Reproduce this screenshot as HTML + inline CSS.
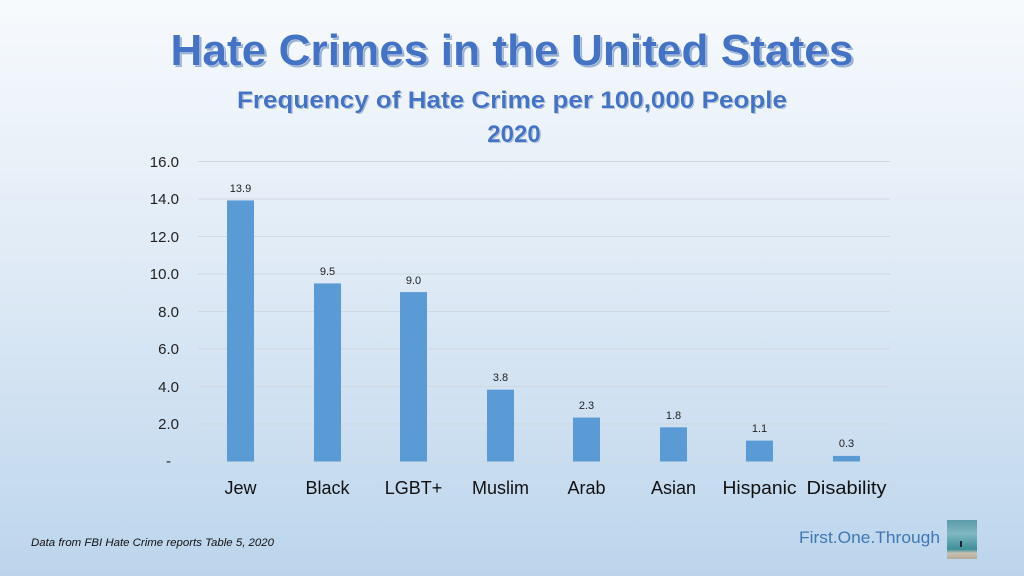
<!DOCTYPE html>
<html><head><meta charset="utf-8"><style>
html,body{margin:0;padding:0;width:1024px;height:576px;overflow:hidden}
</style></head><body>
<svg width="1024" height="576" xmlns="http://www.w3.org/2000/svg" font-family="Liberation Sans, sans-serif">
<defs>
<linearGradient id="bg" x1="0" y1="0" x2="0" y2="1">
<stop offset="0" stop-color="#f7fafd"/><stop offset="0.5" stop-color="#dde9f5"/><stop offset="1" stop-color="#bcd5ec"/>
</linearGradient>
<linearGradient id="ph" x1="0" y1="0" x2="0" y2="1">
<stop offset="0" stop-color="#5a9aa8"/><stop offset="0.35" stop-color="#7fb7c0"/><stop offset="0.75" stop-color="#3f8f9a"/><stop offset="0.85" stop-color="#c8c0b0"/><stop offset="1" stop-color="#b5ab9c"/>
</linearGradient>
</defs>
<rect width="1024" height="576" fill="url(#bg)"/>
<g font-weight="bold" fill="#4472c4" stroke="#ffffff" stroke-width="0.6" style="paint-order:stroke">
<text x="514" y="67" font-size="44" text-anchor="middle" textLength="683" lengthAdjust="spacingAndGlyphs" fill="#9ab0d0" stroke="none">Hate Crimes in the United States</text>
<text x="512" y="65" font-size="44" text-anchor="middle" textLength="683" lengthAdjust="spacingAndGlyphs">Hate Crimes in the United States</text>
<text x="513" y="109" font-size="24" text-anchor="middle" textLength="550" lengthAdjust="spacingAndGlyphs" fill="#9ab0d0" stroke="none">Frequency of Hate Crime per 100,000 People</text>
<text x="512" y="108" font-size="24" text-anchor="middle" textLength="550" lengthAdjust="spacingAndGlyphs">Frequency of Hate Crime per 100,000 People</text>
<text x="515" y="143" font-size="24" text-anchor="middle" fill="#9ab0d0" stroke="none">2020</text>
<text x="514" y="142" font-size="24" text-anchor="middle">2020</text>
</g>
<g stroke="#d0d8e0" stroke-width="1">
<line x1="198" x2="890" y1="161.5" y2="161.5"/><line x1="198" x2="890" y1="199" y2="199"/>
<line x1="198" x2="890" y1="236.5" y2="236.5"/><line x1="198" x2="890" y1="274" y2="274"/>
<line x1="198" x2="890" y1="311.5" y2="311.5"/><line x1="198" x2="890" y1="349" y2="349"/>
<line x1="198" x2="890" y1="386.5" y2="386.5"/><line x1="198" x2="890" y1="424" y2="424"/>
<line x1="198" x2="890" y1="461.5" y2="461.5"/>
</g>
<g font-size="15" fill="#222" text-anchor="end">
<text x="179" y="167">16.0</text><text x="179" y="204">14.0</text><text x="179" y="242">12.0</text>
<text x="179" y="279">10.0</text><text x="179" y="317">8.0</text><text x="179" y="354">6.0</text>
<text x="179" y="392">4.0</text><text x="179" y="429">2.0</text><text x="171" y="466">-</text>
</g>
<g fill="#5b9bd5">
<rect x="227" y="200.4" width="27" height="261.1"/>
<rect x="314" y="283.4" width="27" height="178.1"/>
<rect x="400" y="292.1" width="27" height="169.4"/>
<rect x="487" y="389.7" width="27" height="71.8"/>
<rect x="573" y="417.6" width="27" height="43.9"/>
<rect x="660" y="427.3" width="27" height="34.2"/>
<rect x="746" y="440.6" width="27" height="20.9"/>
<rect x="833" y="455.9" width="27" height="5.6"/>
</g>
<g font-size="11" fill="#222" text-anchor="middle">
<text x="240.5" y="192">13.9</text><text x="327.5" y="275">9.5</text><text x="413.5" y="284">9.0</text>
<text x="500.5" y="381">3.8</text><text x="586.5" y="409">2.3</text><text x="673.5" y="419">1.8</text>
<text x="759.5" y="432">1.1</text><text x="846.5" y="447">0.3</text>
</g>
<g font-size="18" fill="#111" text-anchor="middle">
<text x="240.5" y="494">Jew</text><text x="327.5" y="494">Black</text><text x="413.5" y="494">LGBT+</text>
<text x="500.5" y="494">Muslim</text><text x="586.5" y="494">Arab</text><text x="673.5" y="494">Asian</text>
<text x="759.5" y="494" textLength="74" lengthAdjust="spacingAndGlyphs">Hispanic</text><text x="846.5" y="494" textLength="80" lengthAdjust="spacingAndGlyphs">Disability</text>
</g>
<text x="31" y="546" font-size="11" font-style="italic" fill="#111" textLength="243" lengthAdjust="spacingAndGlyphs">Data from FBI Hate Crime reports Table 5, 2020</text>
<text x="799" y="543" font-size="17" fill="#3f78b4" textLength="141" lengthAdjust="spacingAndGlyphs">First.One.Through</text>
<rect x="947" y="520" width="30" height="39" fill="url(#ph)"/>
<rect x="960" y="541" width="2" height="6" fill="#223"/>
</svg>
</body></html>
